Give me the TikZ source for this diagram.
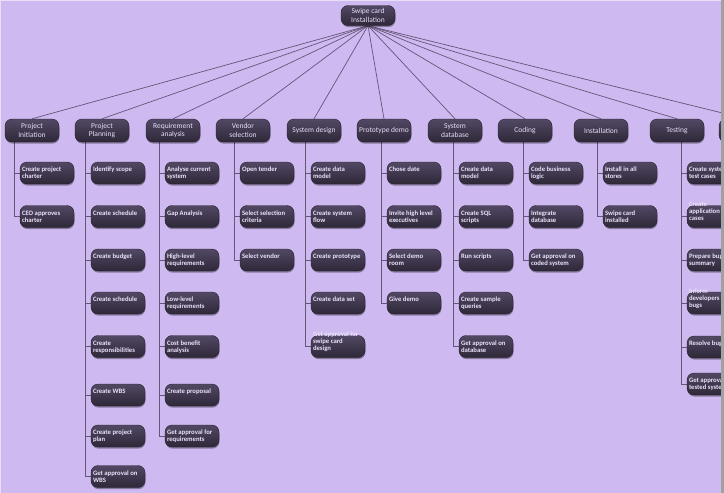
\documentclass[tikz,border=0pt]{standalone}
\usepackage{fontspec}
\setmainfont{Carlito}
\usetikzlibrary{shadows,backgrounds}
\definecolor{bg}{RGB}{206,186,240}
\definecolor{nodetop}{RGB}{82,72,100}
\definecolor{nodebot}{RGB}{46,40,56}
\definecolor{nodeline}{RGB}{38,32,48}
\definecolor{conn}{RGB}{100,86,120}
\definecolor{kidtext}{RGB}{234,226,250}
\definecolor{hdtext}{RGB}{230,222,246}
\definecolor{strip}{RGB}{160,160,162}
\tikzset{
  boxbase/.style={rectangle, rounded corners=7pt, top color=nodetop, bottom color=nodebot,
    draw=nodeline, line width=0.4pt, inner sep=0pt,
    drop shadow={shadow xshift=0.5pt, shadow yshift=-1.6pt, opacity=0.35, fill=black}},
  hdbox/.style={boxbase, minimum width=54pt, minimum height=23pt, align=center,
    text=hdtext, font=\fontsize{7.5}{8.5}\selectfont},
  rootbox/.style={hdbox, minimum height=20pt},
  kidbox/.style={boxbase, minimum width=54pt, minimum height=22pt},
  kidtxt/.style={inner sep=0pt, align=left, anchor=north west, text=kidtext,
    font=\fontsize{6.7}{7}\selectfont\bfseries},
  link/.style={draw=conn, line width=0.7pt},
}
\newcommand\kid[5]{\node[kidbox] (#1) at (#2,#3) {};
  \node[kidtxt] (#1t) at ([shift={(2,#5)}]#1.north west) {\vphantom{Ah}#4};}
\newcommand\lnk[3]{\draw[link] ([xshift=#2]#1.south west) |- (#3.west);}
\begin{document}
\begin{tikzpicture}[x=1pt,y=1pt]
\useasboundingbox (0,0) rectangle (724,-493);
\begin{pgfonlayer}{background}
\fill[bg] (0,0) rectangle (724,-493);
\end{pgfonlayer}
% root
\node[rootbox] (root) at (368,-15.5) {Swipe card\\Installation};
% level 1
\node[hdbox] (H1) at (32,-130.5) {Project\\Initiation};
\node[hdbox] (H2) at (102,-130.5) {Project\\Planning};
\node[hdbox] (H3) at (173,-130.5) {Requirement\\analysis};
\node[hdbox] (H4) at (243,-130.5) {Vendor\\selection};
\node[hdbox] (H5) at (314,-130.5) {System design};
\node[hdbox] (H6) at (384,-130.5) {Prototype demo};
\node[hdbox] (H7) at (455,-130.5) {System\\database};
\node[hdbox] (H8) at (525,-130.5) {Coding};
\node[hdbox] (H9) at (601,-130.5) {Installation};
\node[hdbox] (H10) at (677,-130.5) {Testing};
\node[hdbox] (H11) at (746,-130.5) {};
% column 1
\kid{k1a}{47}{-173}{Create project\\charter}{-5}
\kid{k1b}{47}{-216.5}{CEO approves\\charter}{-5}
% column 2
\kid{k2a}{118}{-173}{Identify scope}{-5}
\kid{k2b}{118}{-216.5}{Create schedule}{-5}
\kid{k2c}{118}{-260}{Create budget}{-5}
\kid{k2d}{118}{-303}{Create schedule}{-5}
\kid{k2e}{118}{-346.5}{Create\\responsibilities}{-5}
\kid{k2f}{118}{-395}{Create WBS}{-5}
\kid{k2g}{118}{-436}{Create project\\plan}{-5}
\kid{k2h}{118}{-476.5}{Get approval on\\WBS}{-5}
% column 3
\kid{k3a}{192}{-173}{Analyse current\\system}{-5}
\kid{k3b}{192}{-216.5}{Gap Analysis}{-5}
\kid{k3c}{192}{-260}{High-level\\requirements}{-5}
\kid{k3d}{192}{-303}{Low-level\\requirements}{-5}
\kid{k3e}{192}{-346.5}{Cost benefit\\analysis}{-5}
\kid{k3f}{192}{-395}{Create proposal}{-5}
\kid{k3g}{192}{-436}{Get approval for\\requirements}{-5}
% column 4
\kid{k4a}{267}{-173}{Open tender}{-5}
\kid{k4b}{267}{-216.5}{Select selection\\criteria}{-5}
\kid{k4c}{267}{-260}{Select vendor}{-5}
% column 5
\kid{k5a}{338}{-173}{Create data\\model}{-5}
\kid{k5b}{338}{-216.5}{Create system\\flow}{-5}
\kid{k5c}{338}{-260}{Create prototype}{-5}
\kid{k5d}{338}{-303}{Create data set}{-5}
\kid{k5e}{338}{-346.5}{Get approval for\\swipe card\\design}{3.5}
% column 6
\kid{k6a}{414}{-173}{Chose date}{-5}
\kid{k6b}{414}{-216.5}{Invite high level\\executives}{-5}
\kid{k6c}{414}{-260}{Select demo\\room}{-5}
\kid{k6d}{414}{-303}{Give demo}{-5}
% column 7
\kid{k7a}{486}{-173}{Create data\\model}{-5}
\kid{k7b}{486}{-216.5}{Create SQL\\scripts}{-5}
\kid{k7c}{486}{-260}{Run scripts}{-5}
\kid{k7d}{486}{-303}{Create sample\\queries}{-5}
\kid{k7e}{486}{-346.5}{Get approval on\\database}{-5}
% column 8
\kid{k8a}{556}{-173}{Code business\\logic}{-5}
\kid{k8b}{556}{-216.5}{Integrate\\database}{-5}
\kid{k8c}{556}{-260}{Get approval on\\coded system}{-5}
% column 9
\kid{k9a}{630}{-173}{Install in all\\stores}{-5}
\kid{k9b}{630}{-216.5}{Swipe card\\installed}{-5}
% column 10
\kid{k10a}{714}{-173}{Create system\\test cases}{-5}
\kid{k10b}{714}{-216.5}{Create\\application test\\cases}{3.5}
\kid{k10c}{714}{-260}{Prepare bug\\summary}{-5}
\kid{k10d}{714}{-303}{Inform\\developers about\\bugs}{3.5}
\kid{k10e}{714}{-347}{Resolve bugs}{-5}
\kid{k10f}{714}{-384}{Get approval on\\tested system}{-5}
% connectors
\begin{pgfonlayer}{background}
\foreach \i in {1,...,11} {\draw[link] (root.south) -- (H\i.north);}
\foreach \k in {a,b} {\lnk{H1}{10}{k1\k}}
\foreach \k in {a,b,c,d,e,f,g,h} {\lnk{H2}{11}{k2\k}}
\foreach \k in {a,b,c,d,e,f,g} {\lnk{H3}{14}{k3\k}}
\foreach \k in {a,b,c} {\lnk{H4}{19}{k4\k}}
\foreach \k in {a,b,c,d,e} {\lnk{H5}{19}{k5\k}}
\foreach \k in {a,b,c,d} {\lnk{H6}{25}{k6\k}}
\foreach \k in {a,b,c,d,e} {\lnk{H7}{26}{k7\k}}
\foreach \k in {a,b,c} {\lnk{H8}{26}{k8\k}}
\foreach \k in {a,b} {\lnk{H9}{24}{k9\k}}
\foreach \k in {a,b,c,d,e,f} {\lnk{H10}{32}{k10\k}}
\end{pgfonlayer}
% frame edges
\fill[white!55!bg] (0,0) rectangle (721,-1);
\fill[white!55!bg] (0,0) rectangle (1,-493);
\fill[strip] (721,0) rectangle (724,-493);
\end{tikzpicture}
\end{document}
